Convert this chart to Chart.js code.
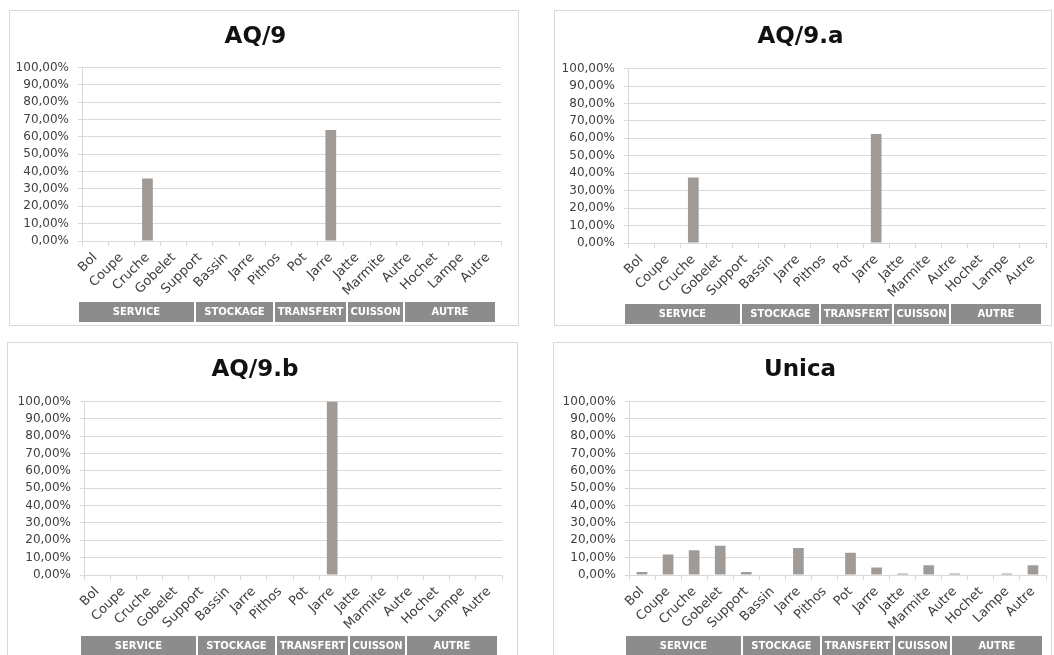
<!DOCTYPE html>
<html>
<head>
<meta charset="utf-8">
<script src="https://cdn.jsdelivr.net/npm/chart.js@4.4.0/dist/chart.umd.min.js"></script>
<style>
  body { margin: 0; background: #fff; width: 1054px; height: 655px; overflow: hidden; position: relative; }
  .panel { position: absolute; border: 1px solid #d9d9d9; background: #fff; }
  canvas { display: block; }
</style>
</head>
<body>
<div class="panel" style="left:9px;top:10px;"><canvas id="c1" width="508" height="314"></canvas></div>
<div class="panel" style="left:554px;top:10px;"><canvas id="c2" width="496" height="314"></canvas></div>
<div class="panel" style="left:7px;top:342px;"><canvas id="c3" width="509" height="316"></canvas></div>
<div class="panel" style="left:553px;top:342px;"><canvas id="c4" width="497" height="316"></canvas></div>
<script>
// categories (x axis) and groups shown in the grey band under the labels
var categories = ["Bol", "Coupe", "Cruche", "Gobelet", "Support", "Bassin", "Jarre", "Pithos",
  "Pot", "Jarre", "Jatte", "Marmite", "Autre", "Hochet", "Lampe", "Autre"];
var groups = ["SERVICE", "STOCKAGE", "TRANSFERT", "CUISSON", "AUTRE"];

// values in %
var aq9   = [0, 0, 36, 0, 0, 0, 0, 0, 0, 64, 0, 0, 0, 0, 0, 0];
var aq9a  = [0, 0, 37.5, 0, 0, 0, 0, 0, 0, 62.5, 0, 0, 0, 0, 0, 0];
var aq9b  = [0, 0, 0, 0, 0, 0, 0, 0, 0, 100, 0, 0, 0, 0, 0, 0];
var unica = [1.8, 11.8, 14.3, 16.8, 1.8, 0, 15.6, 0, 12.9, 4.3, 0.8, 5.6, 0.8, 0, 0.8, 5.6];

var yMin = 0, yMax = 100, yStep = 10;

// band boxes, px offsets from the plot's left edge
var bandSpans = [[-3, 112], [114, 191], [193, 264], [266, 321], [323, 413]];

var bandPlugin = {
  id: "groupBands",
  afterDraw: function (chart) {
    var ctx = chart.ctx;
    var area = chart.chartArea;
    var top = area.bottom + 61;
    ctx.save();
    for (var i = 0; i < groups.length; i++) {
      var x0 = area.left + bandSpans[i][0];
      var x1 = area.left + bandSpans[i][1];
      ctx.fillStyle = "#8c8c8c";
      ctx.fillRect(x0, top, x1 - x0, 20);
      ctx.fillStyle = "#ffffff";
      ctx.font = "bold 10px 'DejaVu Sans'";
      ctx.textAlign = "center";
      ctx.textBaseline = "middle";
      ctx.fillText(groups[i], (x0 + x1) / 2, top + 10.5);
    }
    ctx.restore();
  }
};

function makeChart(id, title, values, yAxisW, padRight, titleTop, titleBottom, padBottom) {
  var ctx = document.getElementById(id).getContext("2d");
  return new Chart(ctx, {
    type: "bar",
    data: {
      labels: categories,
      datasets: [{
        data: values,
        backgroundColor: "#a19b98",
        borderWidth: 0,
        categoryPercentage: 1,
        barPercentage: 0.41
      }]
    },
    options: {
      responsive: false,
      animation: false,
      layout: { padding: { left: 0, right: padRight, top: 0, bottom: padBottom } },
      plugins: {
        legend: { display: false },
        tooltip: { enabled: false },
        title: {
          display: true,
          text: title,
          color: "#111111",
          font: { family: "'DejaVu Sans'", size: 23, weight: "bold", lineHeight: 1.2 },
          padding: { top: titleTop, bottom: titleBottom }
        }
      },
      scales: {
        x: {
          offset: true,
          afterFit: function (scale) { scale.height = 60; },
          grid: { offset: true, drawOnChartArea: false, drawTicks: true, tickLength: 5, color: "#d9d9d9" },
          border: { display: true, color: "#d9d9d9" },
          ticks: {
            autoSkip: false,
            minRotation: 45,
            maxRotation: 45,
            padding: 4,
            color: "#404040",
            font: { family: "'DejaVu Sans'", size: 13 }
          }
        },
        y: {
          min: yMin,
          max: yMax,
          afterFit: function (scale) { scale.width = yAxisW; },
          grid: { color: "#d9d9d9", tickLength: 4, drawTicks: true },
          border: { display: true, color: "#d9d9d9" },
          ticks: {
            stepSize: yStep,
            autoSkip: false,
            padding: 9,
            color: "#404040",
            font: { family: "'DejaVu Sans'", size: 12 },
            callback: function (v) { return v.toFixed(2).replace(".", ",") + "%"; }
          }
        }
      }
    },
    plugins: [bandPlugin]
  });
}

makeChart("c1", "AQ/9", aq9, 72, 17, 12, 17, 24);
makeChart("c2", "AQ/9.a", aq9a, 73, 5, 12, 18, 22);
makeChart("c3", "AQ/9.b", aq9b, 76, 15, 13, 18, 24);
makeChart("c4", "Unica", unica, 75, 5, 13, 18, 24);
</script>
</body>
</html>
